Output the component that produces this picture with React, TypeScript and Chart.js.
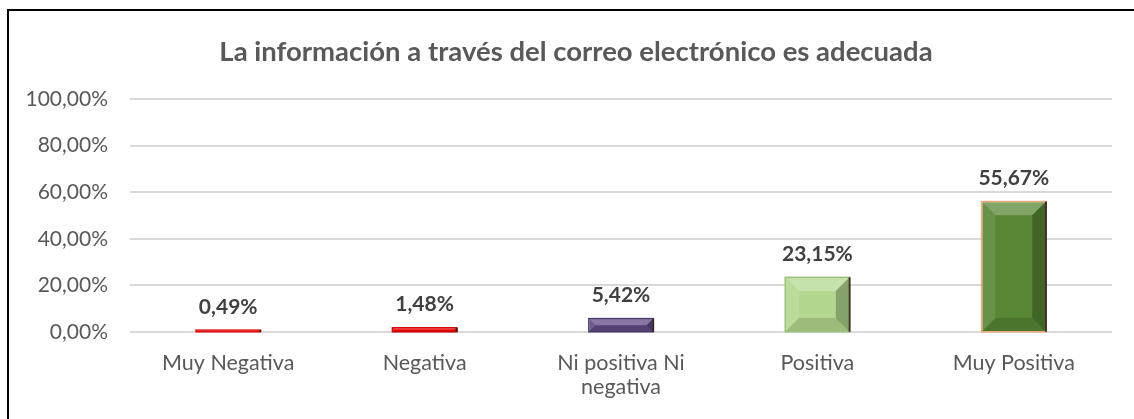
import React, { useEffect, useRef } from "react";
import { Chart, registerables } from "chart.js";

Chart.register(...registerables);

const TITLE = "La información a través del correo electrónico es adecuada";
const categories: (string | string[])[] = [
  "Muy Negativa",
  "Negativa",
  ["Ni positiva Ni", "negativa"],
  "Positiva",
  "Muy Positiva",
];
const values = [0.49, 1.48, 5.42, 23.15, 55.67];
const fillColors = ["#FFD9D9", "#FF0000", "#5F4A84", "#B3D78E", "#578634"];
const edgeColors = ["#E01010", "#D00000", "#4A3A6A", "#9CC47A", "#E9A77A"];
const yTicks = [0, 20, 40, 60, 80, 100];

const fmt = (v: number) => v.toFixed(2).replace(".", ",") + "%";

const FONT = "Lato, 'Open Sans', sans-serif";

const titlePlugin = {
  id: "customTitle",
  afterDraw(chart: any) {
    const ctx = chart.ctx;
    ctx.save();
    ctx.fillStyle = "#595959";
    ctx.font = `bold 27.5px ${FONT}`;
    ctx.textAlign = "center";
    ctx.textBaseline = "middle";
    ctx.fillText(TITLE, (chart.width + 18) / 2, 52);
    ctx.restore();
  },
};

const bevelPlugin = {
  id: "bevel",
  afterDatasetsDraw(chart: any) {
    const ctx = chart.ctx;
    const meta = chart.getDatasetMeta(0);
    meta.data.forEach((bar: any, i: number) => {
      const p = bar.getProps(["x", "y", "base", "width"], true);
      const x0 = p.x - p.width / 2;
      const x1 = p.x + p.width / 2;
      const top = Math.min(p.y, p.base);
      const bottom = Math.max(p.y, p.base);
      const h = bottom - top;
      const b = Math.min(13, h / 2, p.width / 2);
      ctx.save();
      const poly = (pts: number[][], color: string) => {
        ctx.beginPath();
        ctx.moveTo(pts[0][0], pts[0][1]);
        for (let k = 1; k < pts.length; k++) ctx.lineTo(pts[k][0], pts[k][1]);
        ctx.closePath();
        ctx.fillStyle = color;
        ctx.fill();
      };
      poly([[x0, top], [x1, top], [x1 - b, top + b], [x0 + b, top + b]], "rgba(255,255,255,0.25)");
      poly([[x0, top], [x0 + b, top + b], [x0 + b, bottom - b], [x0, bottom]], "rgba(255,255,255,0.1)");
      poly([[x1, top], [x1, bottom], [x1 - b, bottom - b], [x1 - b, top + b]], "rgba(0,0,0,0.25)");
      poly([[x0, bottom], [x1, bottom], [x1 - b, bottom - b], [x0 + b, bottom - b]], "rgba(0,0,0,0.12)");
      ctx.lineWidth = 1.5;
      ctx.strokeStyle = edgeColors[i];
      ctx.strokeRect(x0 - 0.75, top - 0.75, p.width + 1.5, h + 1.5);
      ctx.beginPath();
      ctx.moveTo(x1 + 0.75, top - 0.75);
      ctx.lineTo(x1 + 0.75, bottom + 0.75);
      ctx.strokeStyle = "rgba(40,30,20,0.85)";
      ctx.lineWidth = 2;
      ctx.stroke();
      ctx.fillStyle = "#404040";
      ctx.font = `bold 21px ${FONT}`;
      ctx.textAlign = "center";
      ctx.textBaseline = "middle";
      ctx.fillText(fmt(values[i]), p.x, top - 24);
      ctx.restore();
    });
  },
};

export default function App() {
  const ref = useRef<HTMLCanvasElement>(null);
  useEffect(() => {
    if (!ref.current) return;
    const chart = new Chart(ref.current, {
      type: "bar",
      data: {
        labels: categories,
        datasets: [
          {
            data: values,
            backgroundColor: fillColors,
            borderWidth: 0,
            categoryPercentage: 1,
            barPercentage: 0.32,
          },
        ],
      },
      options: {
        animation: false,
        responsive: false,
        maintainAspectRatio: false,
        layout: { padding: { left: 0, right: 22, top: 99, bottom: 0 } },
        plugins: {
          legend: { display: false },
          tooltip: { enabled: false },
          title: { display: false },
        },
        scales: {
          x: {
            grid: { display: false, drawTicks: false },
            border: { display: false },
            ticks: {
              color: "#595959",
              font: { family: FONT, size: 21.5, lineHeight: 1.12 },
              padding: 19,
              maxRotation: 0,
              autoSkip: false,
            },
            afterFit: (s: any) => {
              s.height = 87;
            },
          },
          y: {
            min: 0,
            max: 100,
            afterBuildTicks: (s: any) => {
              s.ticks = yTicks.map((v) => ({ value: v }));
            },
            grid: { color: "#D9D9D9", lineWidth: 2, drawTicks: false },
            border: { display: false },
            ticks: {
              color: "#595959",
              font: { family: FONT, size: 21 },
              padding: 22,
              callback: (v: any) => fmt(Number(v)),
            },
            afterFit: (s: any) => {
              s.width = 130;
            },
          },
        },
      },
      plugins: [bevelPlugin, titlePlugin],
    });
    return () => chart.destroy();
  }, []);
  return (
    <div
      style={{
        position: "fixed",
        left: 0,
        top: 0,
        width: 1134,
        height: 419,
        overflow: "hidden",
        background: "#fff",
      }}
    >
      <canvas
        ref={ref}
        width={1134}
        height={419}
        style={{ position: "absolute", left: 0, top: 0, width: 1134, height: 419 }}
      />
      <div
        style={{
          position: "absolute",
          left: 7,
          top: 9,
          width: 1200,
          height: 500,
          borderLeft: "2px solid #000",
          borderTop: "2px solid #000",
          pointerEvents: "none",
        }}
      />
    </div>
  );
}
